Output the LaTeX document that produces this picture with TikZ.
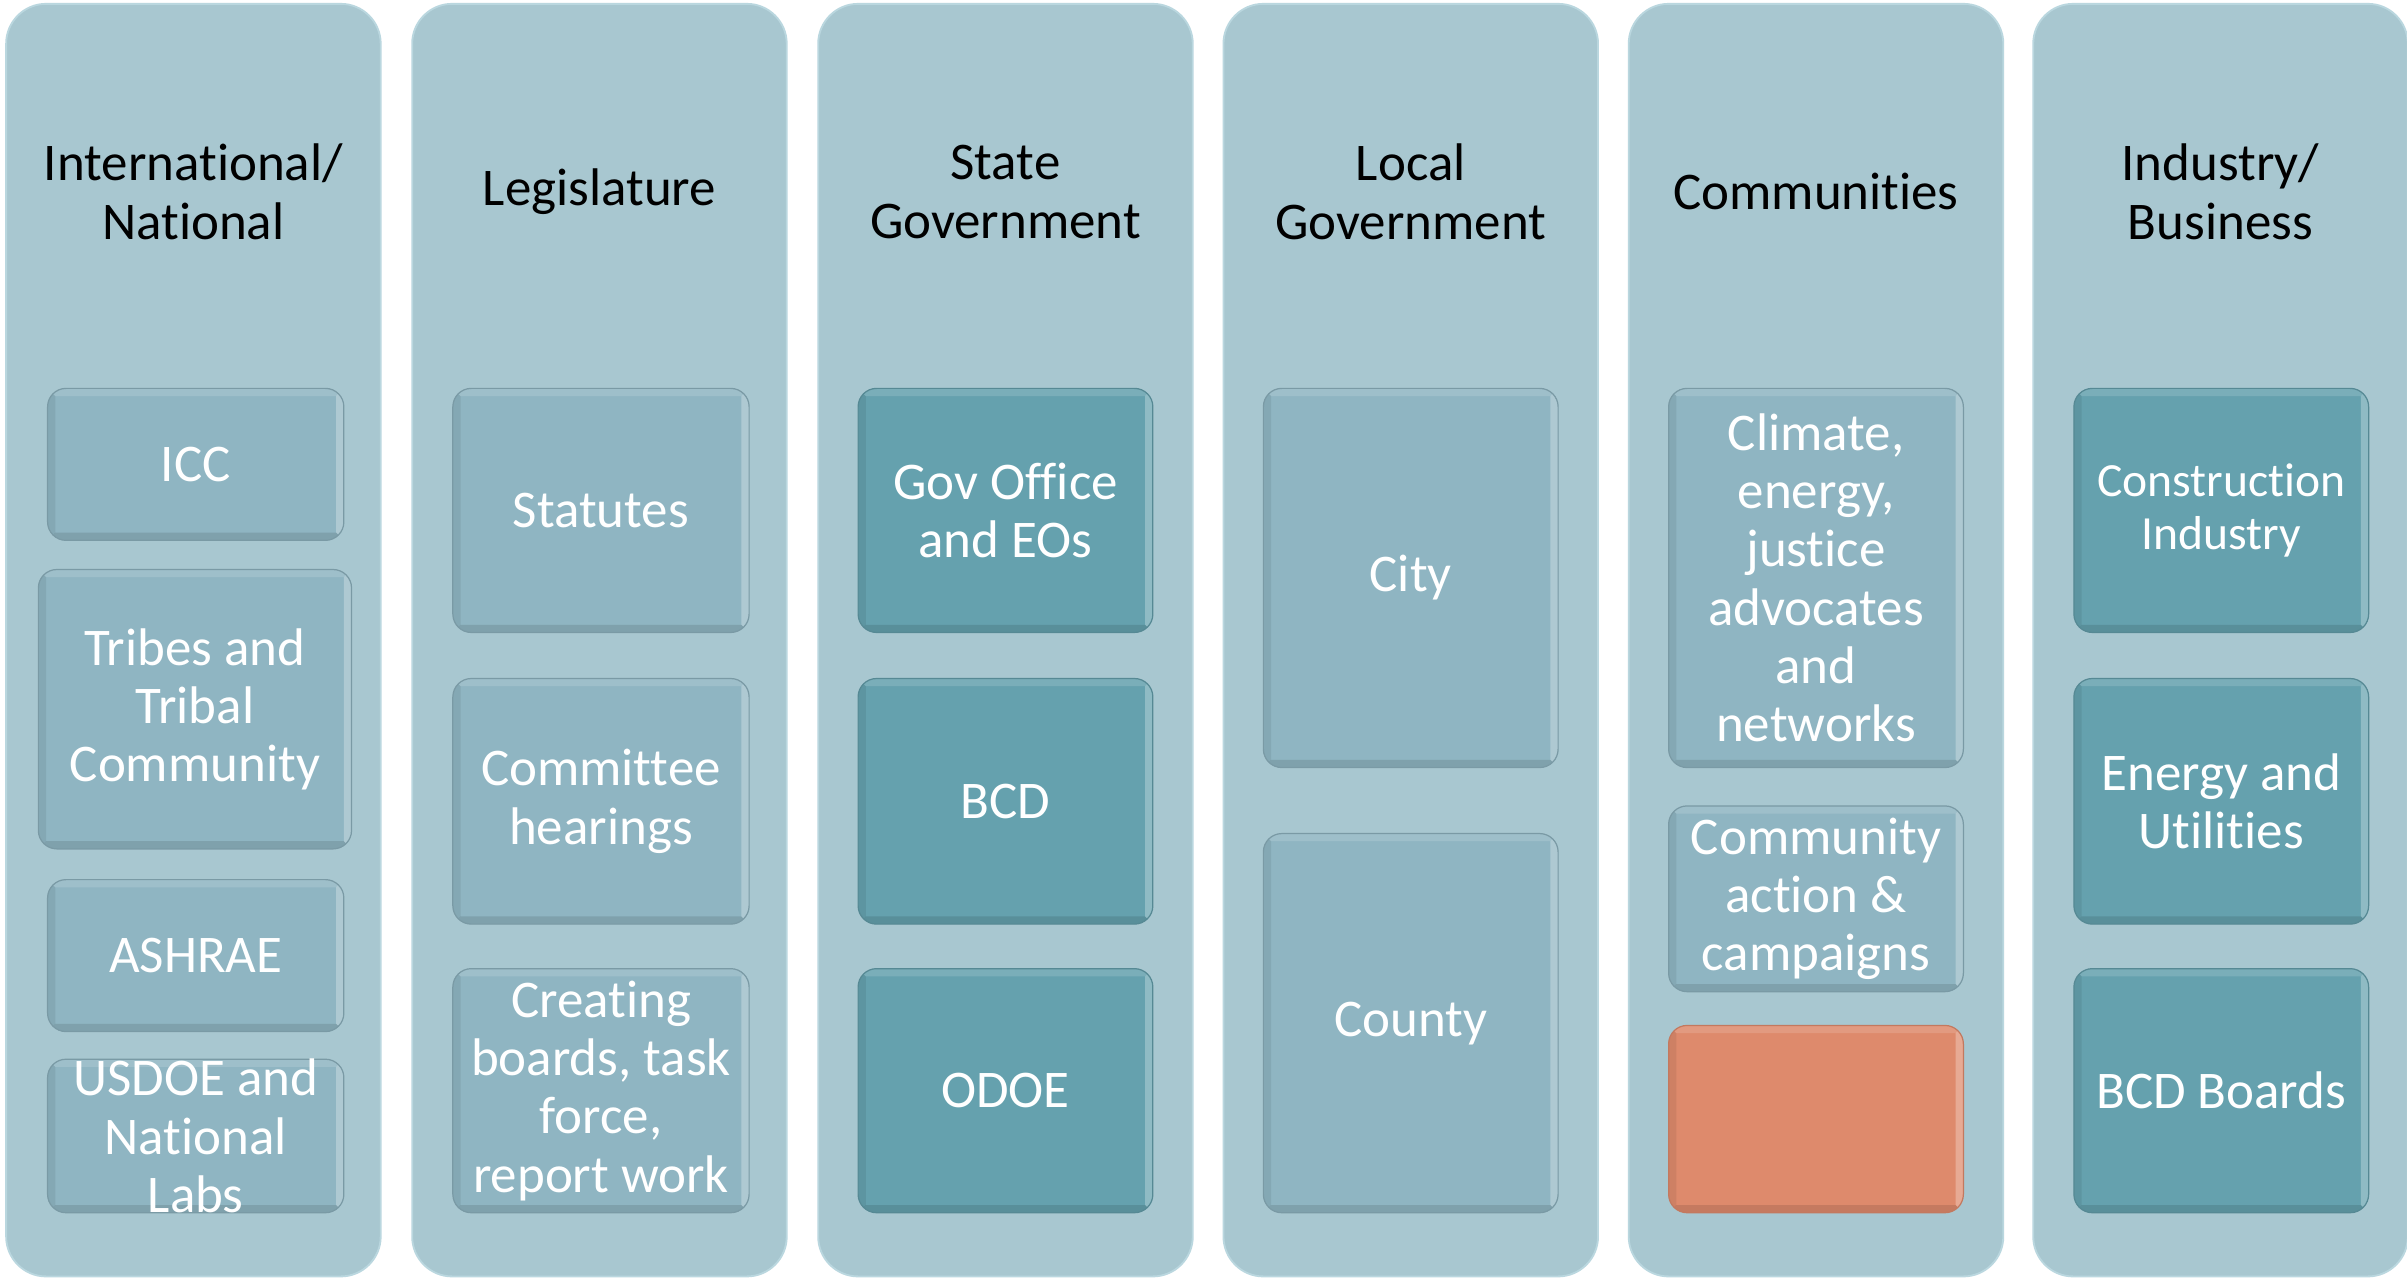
\documentclass[tikz,border=0pt]{standalone}
\usepackage{fontspec}
\setmainfont[Ligatures=NoCommon]{Carlito}
\definecolor{panel}{RGB}{168,199,208}
\definecolor{paneledge}{RGB}{186,215,223}
\definecolor{lightbox}{RGB}{143,181,194}
\definecolor{darkbox}{RGB}{101,161,174}
\definecolor{orangebox}{RGB}{222,138,108}
\tikzset{
  panelbox/.style={draw=paneledge, line width=1.2pt, fill=panel, rounded corners=26pt,
    minimum width=244pt, minimum height=829pt, inner sep=0pt, outer sep=0pt},
  bevel/.style={path picture={
    \coordinate (pa) at (path picture bounding box.north west);
    \coordinate (pb) at (path picture bounding box.north east);
    \coordinate (pc) at (path picture bounding box.south east);
    \coordinate (pd) at (path picture bounding box.south west);
    \fill[sharp corners,white,opacity=0.14] (pa) -- (pb) -- ([shift={(-5pt,-5pt)}]pb) -- ([shift={(5pt,-5pt)}]pa) -- cycle;
    \fill[sharp corners,white,opacity=0.28] (pb) -- (pc) -- ([shift={(-5pt,5pt)}]pc) -- ([shift={(-5pt,-5pt)}]pb) -- cycle;
    \fill[sharp corners,black,opacity=0.11] (pd) -- (pc) -- ([shift={(-5pt,5pt)}]pc) -- ([shift={(5pt,5pt)}]pd) -- cycle;
    \fill[sharp corners,black,opacity=0.07] (pa) -- (pd) -- ([shift={(5pt,5pt)}]pd) -- ([shift={(5pt,-5pt)}]pa) -- cycle;
  }},
  tilebase/.style={rounded corners=12pt, inner sep=0pt, outer sep=0pt, line width=0.8pt, bevel},
  lighttile/.style={tilebase, fill=lightbox, draw=lightbox!85!black},
  darktile/.style={tilebase, fill=darkbox, draw=darkbox!85!black},
  orangetile/.style={tilebase, fill=orangebox, draw=orangebox!88!black},
  title/.style={align=center, text=black, font=\fontsize{34.5}{38}\selectfont, inner sep=0pt},
  tiletext/.style={align=center, text=white, font=\fontsize{34.5}{38}\selectfont, inner sep=0pt},
  smalltext/.style={align=center, text=white, font=\fontsize{31}{34}\selectfont, inner sep=0pt},
}
\begin{document}
\begin{tikzpicture}[x=1pt,y=-1pt]
\useasboundingbox[fill=white] (0,0) rectangle (1568,833);

% panels
\node[panelbox] (c1) at (126,417) {};
\node[panelbox] (c2) at (390.5,417) {};
\node[panelbox] (c3) at (655,417) {};
\node[panelbox] (c4) at (919,417) {};
\node[panelbox] (c5) at (1183,417) {};
\node[panelbox] (c6) at (1446.5,417) {};

% titles
\node[title] (t1) at (126,125) {International/\\National};
\node[title] (t2) at (390.5,125) {Legislature};
\node[title] (t3) at (655,125) {State\\Government};
\node[title] (t4) at (919,125) {Local\\Government};
\node[title] (t5) at (1183,125) {Communities};
\node[title] (t6) at (1446.5,125) {Industry/\\Business};

% column 1
\node[lighttile, minimum width=193pt, minimum height=99pt] (icc) at (127.5,302.5) {};
\node[tiletext] (iccT) at (icc) {ICC};
\node[lighttile, minimum width=204pt, minimum height=182pt] (tribes) at (127,462) {};
\node[tiletext] (tribesT) at (tribes) {Tribes and\\Tribal\\Community};
\node[lighttile, minimum width=193pt, minimum height=99pt] (ashrae) at (127.5,622.5) {};
\node[tiletext] (ashraeT) at (ashrae) {ASHRAE};
\node[lighttile, minimum width=193pt, minimum height=100pt] (usdoe) at (127.5,740) {};
\node[tiletext] (usdoeT) at (usdoe) {USDOE and\\National\\Labs};

% column 2
\node[lighttile, minimum width=193pt, minimum height=159pt] (stat) at (391.5,332.5) {};
\node[tiletext] (statT) at (stat) {Statutes};
\node[lighttile, minimum width=193pt, minimum height=160pt] (comm) at (391.5,522) {};
\node[tiletext] (commT) at (comm) {Committee\\hearings};
\node[lighttile, minimum width=193pt, minimum height=159pt] (creat) at (391.5,710.5) {};
\node[tiletext] (creatT) at (creat) {Creating\\boards, task\\force,\\report work};

% column 3
\node[darktile, minimum width=192pt, minimum height=159pt] (gov) at (655,332.5) {};
\node[tiletext] (govT) at (gov) {Gov Office\\and EOs};
\node[darktile, minimum width=192pt, minimum height=160pt] (bcd) at (655,522) {};
\node[tiletext] (bcdT) at (bcd) {BCD};
\node[darktile, minimum width=192pt, minimum height=159pt] (odoe) at (655,710.5) {};
\node[tiletext] (odoeT) at (odoe) {ODOE};

% column 4
\node[lighttile, minimum width=192pt, minimum height=247pt] (city) at (919,376.5) {};
\node[tiletext] (cityT) at (city) {City};
\node[lighttile, minimum width=192pt, minimum height=247pt] (county) at (919,666.5) {};
\node[tiletext] (countyT) at (county) {County};

% column 5
\node[lighttile, minimum width=192pt, minimum height=247pt] (clim) at (1183,376.5) {};
\node[tiletext] (climT) at (clim) {Climate,\\energy,\\justice\\advocates\\and\\networks};
\node[lighttile, minimum width=192pt, minimum height=121pt] (cact) at (1183,585.5) {};
\node[tiletext] (cactT) at (cact) {Community\\action \&\\campaigns};
\node[orangetile, minimum width=192pt, minimum height=122pt] (orng) at (1183,729) {};

% column 6
\node[darktile, minimum width=192pt, minimum height=159pt] (cons) at (1447,332.5) {};
\node[smalltext] (consT) at (cons) {Construction\\Industry};
\node[darktile, minimum width=192pt, minimum height=160pt] (enrg) at (1447,522) {};
\node[tiletext] (enrgT) at (enrg) {Energy and\\Utilities};
\node[darktile, minimum width=192pt, minimum height=159pt] (bcdb) at (1447,710.5) {};
\node[tiletext] (bcdbT) at (bcdb) {BCD Boards};
\end{tikzpicture}
\end{document}
